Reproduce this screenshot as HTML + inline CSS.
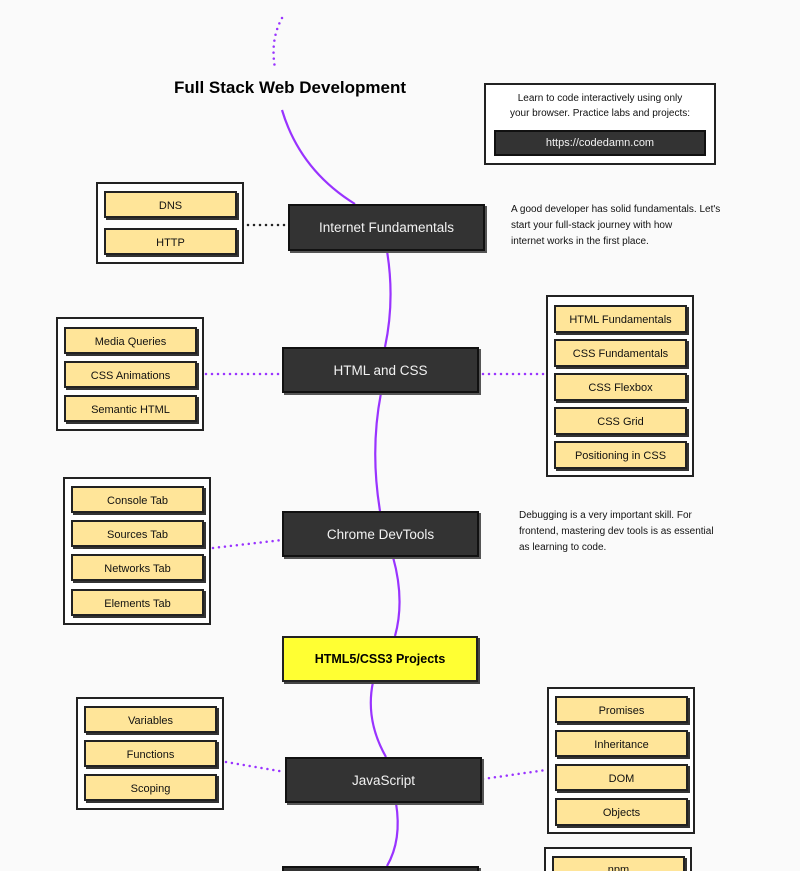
<!DOCTYPE html>
<html style="margin:0;width:800px;height:871px;overflow:hidden;"><head><meta charset="utf-8"><style>
body{margin:0;width:800px;height:871px;background:#fafafa;position:relative;overflow:hidden;font-family:"Liberation Sans",sans-serif;}
.a{position:absolute;box-sizing:border-box;display:flex;align-items:center;justify-content:center;text-align:center;}
.g{position:absolute;box-sizing:border-box;border:2px solid #222;background:#fff;}
.i{position:absolute;box-sizing:border-box;background:#ffe599;border:2px solid #222;box-shadow:2px 2px 0 #333;font-size:11px;color:#111;display:flex;align-items:center;justify-content:center;padding-top:2px;}
.d{position:absolute;box-sizing:border-box;background:#333;border:2px solid #111;box-shadow:2px 2px 0 #555;color:#f2f2f2;font-size:13.5px;display:flex;align-items:center;justify-content:center;}
.t{position:absolute;font-size:10px;line-height:16px;color:#111;}
svg{position:absolute;left:0;top:0;}
</style></head><body>
<svg width="800" height="871">
<g fill="none" stroke="#9933ff" stroke-width="2.2">
<path d="M282,110 Q300,170 355,204"/>
<path d="M387,251 Q395,300 385,347"/>
<path d="M381,393 Q370,450 380,511"/>
<path d="M393,557 Q405,600 395,636"/>
<path d="M373,682 Q365,720 386,757"/>
<path d="M396,803 Q402,840 387,866"/>
</g>
<g fill="none" stroke-linecap="round" stroke-width="2.5" stroke-dasharray="0 6">
<path d="M282,18 Q270,40 275,68" stroke="#9933ff"/>
<path d="M248,225 L288,225" stroke="#222"/>
<path d="M206,374 L282,374" stroke="#9933ff"/>
<path d="M483,374 L546,374" stroke="#9933ff"/>
<path d="M213,548 L282,540" stroke="#9933ff"/>
<path d="M226,762 L285,772" stroke="#9933ff"/>
<path d="M483,779 L546,770" stroke="#9933ff"/>
</g>
</svg>
<div class="a" style="left:140px;top:76px;width:300px;height:24px;font-size:17px;font-weight:bold;color:#000;">Full Stack Web Development</div>
<div class="g" style="left:484px;top:83px;width:232px;height:82px;"></div>
<div class="t" style="left:484px;top:91px;width:232px;text-align:center;line-height:15px;">Learn to code interactively using only<br>your browser. Practice labs and projects:</div>
<div class="a" style="left:494px;top:130px;width:212px;height:26px;background:#333;border:2px solid #111;color:#f2f2f2;font-size:11px;">https://codedamn.com</div>

<div class="g" style="left:96px;top:182px;width:148px;height:82px;"></div>
<div class="i" style="left:104px;top:191px;width:133px;height:27px;">DNS</div>
<div class="i" style="left:104px;top:228px;width:133px;height:27px;">HTTP</div>
<div class="d" style="left:288px;top:204px;width:197px;height:47px;">Internet Fundamentals</div>
<div class="t" style="left:511px;top:202px;">A good developer has solid fundamentals. Let's<br>start your full-stack journey with how<br>internet works in the first place.</div>

<div class="g" style="left:56px;top:317px;width:148px;height:114px;"></div>
<div class="i" style="left:64px;top:327px;width:133px;height:27px;">Media Queries</div>
<div class="i" style="left:64px;top:361px;width:133px;height:27px;">CSS Animations</div>
<div class="i" style="left:64px;top:395px;width:133px;height:27px;">Semantic HTML</div>
<div class="d" style="left:282px;top:347px;width:197px;height:46px;">HTML and CSS</div>
<div class="g" style="left:546px;top:295px;width:148px;height:182px;"></div>
<div class="i" style="left:554px;top:305px;width:133px;height:28px;">HTML Fundamentals</div>
<div class="i" style="left:554px;top:339px;width:133px;height:28px;">CSS Fundamentals</div>
<div class="i" style="left:554px;top:373px;width:133px;height:28px;">CSS Flexbox</div>
<div class="i" style="left:554px;top:407px;width:133px;height:28px;">CSS Grid</div>
<div class="i" style="left:554px;top:441px;width:133px;height:28px;">Positioning in CSS</div>

<div class="g" style="left:63px;top:477px;width:148px;height:148px;"></div>
<div class="i" style="left:71px;top:486px;width:133px;height:27px;">Console Tab</div>
<div class="i" style="left:71px;top:520px;width:133px;height:27px;">Sources Tab</div>
<div class="i" style="left:71px;top:554px;width:133px;height:27px;">Networks Tab</div>
<div class="i" style="left:71px;top:589px;width:133px;height:27px;">Elements Tab</div>
<div class="d" style="left:282px;top:511px;width:197px;height:46px;">Chrome DevTools</div>
<div class="t" style="left:519px;top:508px;">Debugging is a very important skill. For<br>frontend, mastering dev tools is as essential<br>as learning to code.</div>

<div class="d" style="left:282px;top:636px;width:196px;height:46px;background:#ffff33;color:#000;font-weight:bold;font-size:12.5px;border-color:#222;box-shadow:2px 2px 0 #444;">HTML5/CSS3 Projects</div>

<div class="g" style="left:76px;top:697px;width:148px;height:113px;"></div>
<div class="i" style="left:84px;top:706px;width:133px;height:27px;">Variables</div>
<div class="i" style="left:84px;top:740px;width:133px;height:27px;">Functions</div>
<div class="i" style="left:84px;top:774px;width:133px;height:27px;">Scoping</div>
<div class="d" style="left:285px;top:757px;width:197px;height:46px;">JavaScript</div>
<div class="g" style="left:547px;top:687px;width:148px;height:147px;"></div>
<div class="i" style="left:555px;top:696px;width:133px;height:27px;">Promises</div>
<div class="i" style="left:555px;top:730px;width:133px;height:27px;">Inheritance</div>
<div class="i" style="left:555px;top:764px;width:133px;height:27px;">DOM</div>
<div class="i" style="left:555px;top:798px;width:133px;height:28px;">Objects</div>

<div class="d" style="left:282px;top:866px;width:197px;height:46px;"></div>
<div class="g" style="left:544px;top:847px;width:148px;height:60px;"></div>
<div class="i" style="left:552px;top:856px;width:133px;height:27px;align-items:flex-start;padding-top:6px;">npm</div>
</body></html>
